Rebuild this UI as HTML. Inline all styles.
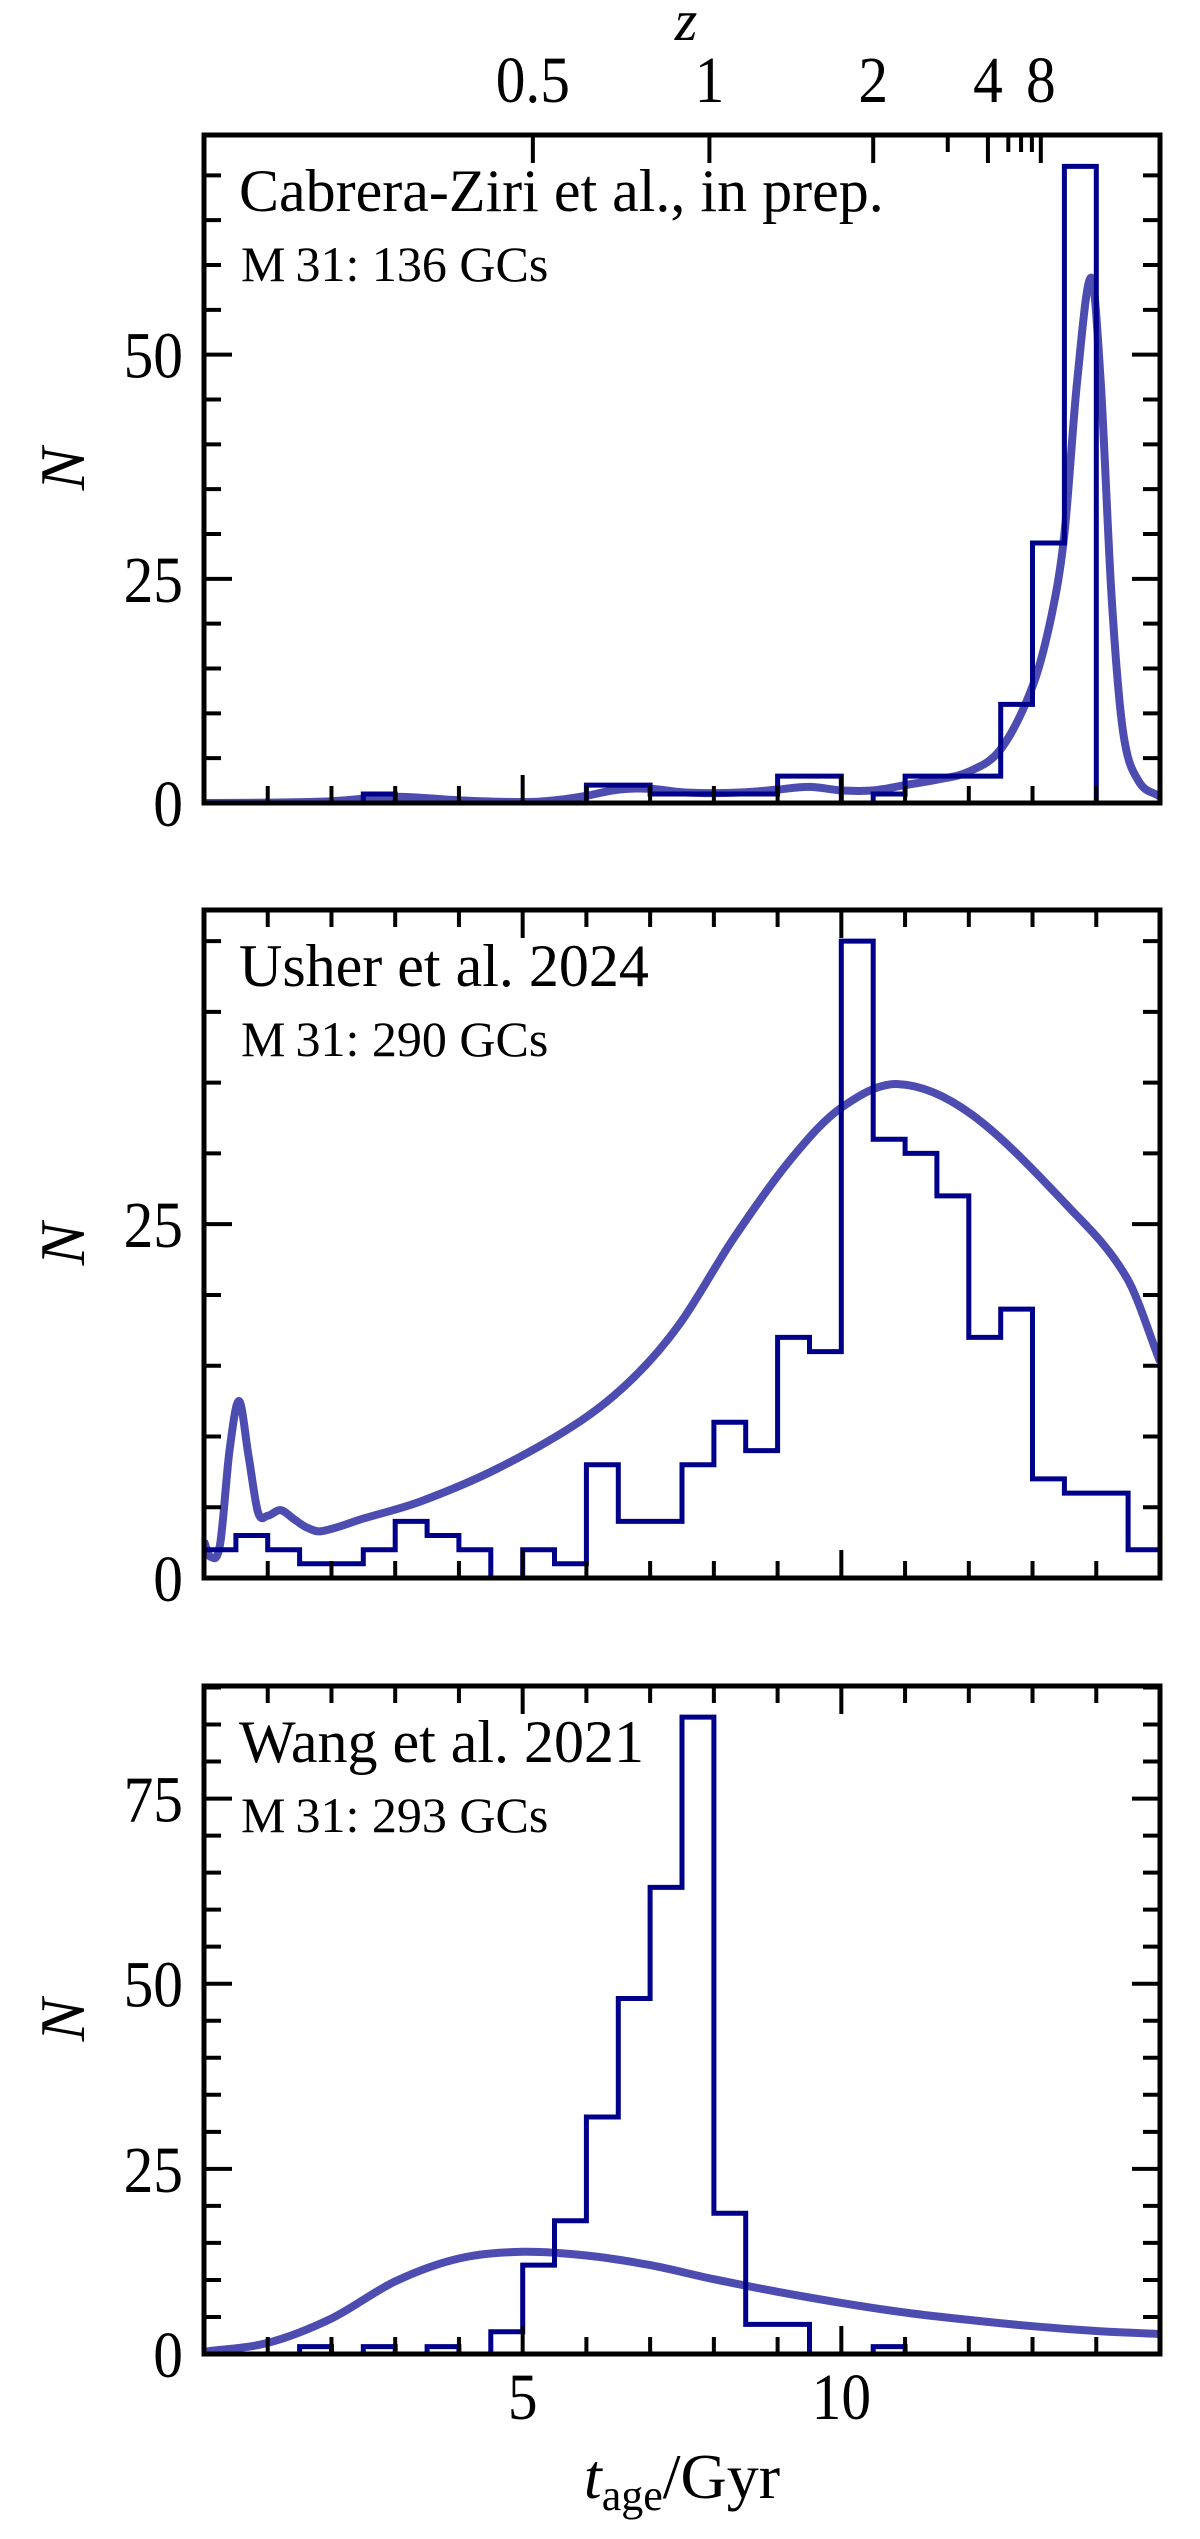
<!DOCTYPE html>
<html><head><meta charset="utf-8"><style>
html,body{margin:0;padding:0;background:#fff;}
svg{display:block;}
text{font-family:"Liberation Serif",serif;fill:#000;}
</style></head><body>
<svg id="fig" width="1200" height="2539" viewBox="0 0 1200 2539" xmlns="http://www.w3.org/2000/svg"></svg>
<script>
// ---- data ----
const binEdgesStart = 0;      // Gyr
const binWidth = 0.5;         // Gyr
const histCabrera = [0,0,0,0,0,1,0,0,0,0,0,0,2,2,1,1,1,1,3,3,0,1,3,3,3,11,29,71,0,0];
const histUsher   = [2,3,2,1,1,2,4,3,2,0,2,1,8,4,4,8,11,9,17,16,45,31,30,27,17,19,7,6,6,2];
const histWang    = [0,0,0,1,0,1,0,1,0,3,12,18,32,48,63,86,19,4,4,0,0,1,0,0,0,0,0,0,0,0];
const kdeCabreraT = [0,1,2,3,4,5,5.5,6,6.5,7,7.5,8,8.5,9,9.5,10,10.5,11,11.5,12,12.5,13,13.3,13.5,13.7,13.92,14.07,14.24,14.42,14.66,15];
const kdeCabreraN = [0,0.05,0.2,0.7,0.3,0.1,0.3,0.8,1.5,1.6,1.2,1.1,1.2,1.5,1.8,1.4,1.4,2,2.6,3.5,6,13,21,30,47,58.6,47,23,8,2.5,0.7];
const kdeUsherT = [0,0.1,0.25,0.4,0.55,0.7,0.85,1.0,1.2,1.4,1.6,1.83,2.5,3.39,4.59,5.91,6.75,7.47,8.31,9.21,9.99,10.89,12.03,13.59,14.48,15];
const kdeUsherN = [2.6,1.5,2.3,9,12.5,8.6,4.6,4.4,4.8,4.2,3.6,3.3,4.2,5.4,7.7,11.1,14.2,18.0,24,29.6,33.2,34.9,32.8,26.1,21.2,15.3];
const kdeWangT = [0,1,2,3,4,5,6,7,8,9,10,11,12,13,14,15];
const kdeWangN = [0.3,1.5,4.8,9.8,12.9,13.8,13.3,12,10.1,8.4,6.9,5.6,4.6,3.75,3.1,2.7];
const panelTitles = ["Cabrera-Ziri et al., in prep.","Usher et al. 2024","Wang et al. 2021"];
const panelCounts = ["M\u200931: 136 GCs","M\u200931: 290 GCs","M\u200931: 293 GCs"];
const yMaxes = [74.5, 47.2, 90.2];
const yMajorTicks = [[0,25,50],[0,25],[0,25,50,75]];
const xMajorTicks = [5,10];
const zTickLabels = ["0.5","1","2","4","8"];
const zTickAges = [5.16,7.93,10.5,12.3,13.13];
const zMinorAges = [11.67,12.62,12.82,12.99];

// ---- layout ----
const NS="http://www.w3.org/2000/svg";
const svg=document.getElementById('fig');
const L=204, W=956, H=668, tops=[135,910,1686];
const XMIN=0, XMAX=15;
function el(tag, attrs, parent){const e=document.createElementNS(NS,tag);for(const k in attrs)e.setAttribute(k,attrs[k]);(parent||svg).appendChild(e);return e;}
function xs(t){return L+(t-XMIN)/(XMAX-XMIN)*W;}
// cubic Hermite through data points (smooth for uneven spacing)
function hermite(T,N,xsF,ysF){
 const n=T.length, m=[];
 for(let i=0;i<n;i++){
  if(i===0) m.push((N[1]-N[0])/(T[1]-T[0]));
  else if(i===n-1) m.push((N[n-1]-N[n-2])/(T[n-1]-T[n-2]));
  else m.push((N[i+1]-N[i-1])/(T[i+1]-T[i-1]));
 }
 let d=`M${xsF(T[0]).toFixed(1)},${ysF(N[0]).toFixed(1)}`;
 for(let i=0;i<n-1;i++){const h=T[i+1]-T[i];
  const c1t=T[i]+h/3, c1n=N[i]+m[i]*h/3, c2t=T[i+1]-h/3, c2n=N[i+1]-m[i+1]*h/3;
  d+=` C${xsF(c1t).toFixed(1)},${ysF(c1n).toFixed(1)} ${xsF(c2t).toFixed(1)},${ysF(c2n).toFixed(1)} ${xsF(T[i+1]).toFixed(1)},${ysF(N[i+1]).toFixed(1)}`;}
 return d;}
function label(parent,x,y,size,anchor,str){
 const t=el('text',{x:0,y:0,'font-size':size,'text-anchor':anchor,transform:`translate(${x},${y}) scale(0.9,1)`},parent);
 t.textContent=str; return t;}

const hists=[histCabrera,histUsher,histWang];
const kT=[kdeCabreraT,kdeUsherT,kdeWangT], kN=[kdeCabreraN,kdeUsherN,kdeWangN];
const names=['cabrera','usher','wang'];

for(let p=0;p<3;p++){
 const T=tops[p], B=T+H, ymax=yMaxes[p];
 const ys=v=>B-v/ymax*H;
 const g=el('g',{});
 
 
 const clipId='clip'+p;
 const cp=el('clipPath',{id:clipId},g); el('rect',{x:L,y:T,width:W,height:H},cp);
 const curve=el('path',{d:hermite(kT[p],kN[p],xs,ys),fill:'none',stroke:'#3a3aa8','stroke-opacity':'0.9','stroke-width':8,'stroke-linejoin':'round','clip-path':`url(#${clipId})`},g);
 
 
 const h=hists[p]; let d=`M${xs(binEdgesStart).toFixed(1)},${B}`;
 for(let i=0;i<h.length;i++){const x0=xs(binEdgesStart+i*binWidth),x1=xs(binEdgesStart+(i+1)*binWidth);d+=` L${x0.toFixed(1)},${ys(h[i]).toFixed(1)} L${x1.toFixed(1)},${ys(h[i]).toFixed(1)}`;}
 d+=` L${xs(binEdgesStart+h.length*binWidth).toFixed(1)},${B}`;
 const hp=el('path',{d:d,fill:'none',stroke:'#00008b','stroke-width':5,'clip-path':`url(#${clipId})`},g);
 
 
 const tk=el('g',{stroke:'#000','stroke-width':4},g);
 
 
 for(let v=0;v<=ymax;v+=5){const y=ys(v);const len=(v%25===0)?28:17;
  el('line',{x1:L,y1:y,x2:L+len,y2:y},tk); el('line',{x1:L+W,y1:y,x2:L+W-len,y2:y},tk);}
 for(let t=1;t<XMAX;t++){const x=xs(t);const len=(t%5===0)?28:17;
  el('line',{x1:x,y1:B,x2:x,y2:B-len},tk);
  if(p>0) el('line',{x1:x,y1:T,x2:x,y2:T+len},tk);}
 if(p===0){zTickAges.forEach(a=>el('line',{x1:xs(a),y1:T,x2:xs(a),y2:T+28},tk));
  zMinorAges.forEach(a=>el('line',{x1:xs(a),y1:T,x2:xs(a),y2:T+17},tk));}
 const fr=el('rect',{x:L,y:T,width:W,height:H,fill:'none',stroke:'#000','stroke-width':5},g);
 
 
 yMajorTicks[p].forEach(v=>{const t=label(g,183,ys(v)+23,66,'end',String(v));
  
  });
 const yl=el('text',{x:0,y:0,'font-size':64,'font-style':'italic','text-anchor':'middle',transform:`translate(84,${T+H/2}) rotate(-90)`},g);yl.textContent='N';
 
 
 const tt=el('text',{x:239,y:T+76,'font-size':60},g);tt.textContent=panelTitles[p];
 
 
 const tc=el('text',{x:241,y:T+146,'font-size':50},g);tc.textContent=panelCounts[p];
 
 
}
xMajorTicks.forEach(v=>{const t=label(svg,xs(v),2419,66,'middle',String(v));
 
 });
const xl=el('text',{x:682,y:2498,'text-anchor':'middle','font-size':64});


xl.innerHTML='<tspan font-style="italic">t</tspan><tspan font-size="44" dy="12">age</tspan><tspan dy="-12">/Gyr</tspan>';
zTickLabels.forEach((s,i)=>{const t=label(svg,xs(zTickAges[i]),102,66,'middle',s);
 
 });
const zl=el('text',{x:686,y:40,'text-anchor':'middle','font-size':58,'font-style':'italic'});zl.textContent='z';


</script>
</body></html>
